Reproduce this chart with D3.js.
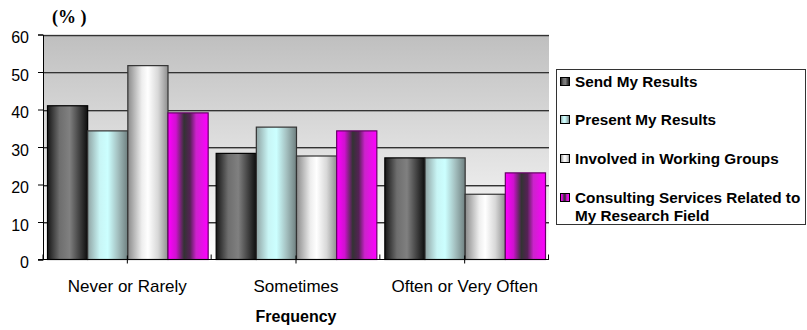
<!DOCTYPE html>
<html><head><meta charset="utf-8">
<script src="https://cdn.jsdelivr.net/npm/d3@7"></script>
<style>body{margin:0;background:#fff}svg{display:block}</style>
</head><body>
<script>
const categories = ["Never or Rarely", "Sometimes", "Often or Very Often"];
const seriesNames = ["Send My Results", "Present My Results", "Involved in Working Groups", "Consulting Services Related to My Research Field"];
const sendValues = [41.0, 28.3, 27.1];
const presentValues = [34.3, 35.3, 27.1];
const involvedValues = [51.7, 27.6, 17.4];
const consultingValues = [39.1, 34.3, 23.1];
const yTicks = [0, 10, 20, 30, 40, 50, 60];

const seriesValues = [sendValues, presentValues, involvedValues, consultingValues];
const W = 807, H = 330;
const m = {left: 43, right: 549, top: 34.5, bottom: 259.5};
const SANS = "Liberation Sans, Arial, sans-serif";

const svg = d3.select("body").append("svg").attr("width", W).attr("height", H);
const defs = svg.append("defs");

const bg = defs.append("linearGradient").attr("id", "bg").attr("x1", 0).attr("y1", 0).attr("x2", 0).attr("y2", 1);
bg.append("stop").attr("offset", "0%").attr("stop-color", "#bfbfbf");
bg.append("stop").attr("offset", "100%").attr("stop-color", "#ffffff");

const grads = [
  [[0, "#161616"], [0.3, "#6e6e6e"], [0.55, "#808080"], [0.85, "#333333"], [1, "#0d0d0d"]],
  [[0, "#8fa3a3"], [0.3, "#c8f5f5"], [0.5, "#ccffff"], [0.75, "#a4c0c0"], [1, "#6f8080"]],
  [[0, "#8a8a8a"], [0.35, "#eeeeee"], [0.5, "#ffffff"], [0.75, "#d8d8d8"], [1, "#8f8f8f"]],
  [[0, "#ff00ff"], [0.2, "#d010d0"], [0.4, "#333333"], [0.55, "#552255"], [0.7, "#cc22cc"], [1, "#ff00ff"]]
];
const strokes = ["#000", "#333", "#333", "#660066"];
grads.forEach((g, i) => {
  const lg = defs.append("linearGradient").attr("id", "g" + i).attr("x1", 0).attr("y1", 0).attr("x2", 1).attr("y2", 0);
  g.forEach(s => lg.append("stop").attr("offset", s[0]).attr("stop-color", s[1]));
});

const x0 = d3.scaleBand().domain(categories).range([m.left, m.right]).paddingInner(0).paddingOuter(0);
const x1 = d3.scaleBand().domain(d3.range(4)).range([4, x0.bandwidth() - 4]).padding(0);
const y = d3.scaleLinear().domain([0, 60]).range([m.bottom, m.top]);

svg.append("rect").attr("x", m.left).attr("y", m.top).attr("width", m.right - m.left).attr("height", m.bottom - m.top).attr("fill", "url(#bg)");

// gridlines
yTicks.filter(t => t > 0).forEach(t => {
  svg.append("line").attr("x1", m.left).attr("x2", m.right).attr("y1", Math.round(y(t)) + 1.5).attr("y2", Math.round(y(t)) + 1.5).attr("stroke", "#9a9a9a").attr("stroke-width", 1);
  svg.append("line").attr("x1", m.left).attr("x2", m.right).attr("y1", Math.round(y(t)) + 0.5).attr("y2", Math.round(y(t)) + 0.5).attr("stroke", "#333").attr("stroke-width", 1);
});

// bars
const groups = svg.append("g").selectAll("g").data(categories).join("g").attr("transform", c => `translate(${x0(c)},0)`);
groups.selectAll("rect").data((c, ci) => seriesValues.map((vals, si) => ({si, v: vals[ci]}))).join("rect")
  .attr("x", d => x1(d.si) + 0.5)
  .attr("y", d => y(d.v))
  .attr("width", x1.bandwidth())
  .attr("height", d => y(0) - y(d.v))
  .attr("fill", d => `url(#g${d.si})`)
  .attr("stroke", d => strokes[d.si]).attr("stroke-width", 1.2);

// y axis
const yAxis = d3.axisLeft(y).tickValues(yTicks).tickSize(5).tickPadding(9).tickFormat(d3.format("d"));
const ya = svg.append("g").attr("transform", `translate(${m.left},0)`).call(yAxis);
ya.select(".domain").attr("stroke", "#000");
ya.selectAll(".tick line").attr("stroke", "#000");
ya.selectAll("text").attr("font-family", SANS).attr("font-size", 16).attr("fill", "#000").attr("dy", "0.52em");

// x axis
svg.append("line").attr("x1", m.left - 5).attr("x2", m.right).attr("y1", m.bottom).attr("y2", m.bottom).attr("stroke", "#000");
const xAxis = d3.axisBottom(x0).tickSize(4).tickPadding(16);
const xa = svg.append("g").attr("transform", `translate(0,${m.bottom})`).call(xAxis);
xa.select(".domain").remove();
xa.selectAll(".tick line").attr("stroke", "#000").attr("y1", -4);
xa.selectAll("text").attr("font-family", SANS).attr("font-size", 17).attr("fill", "#000");
// boundary ticks
[0, 1, 2, 3].forEach(i => {
  const bx = m.left + i * x0.step() + (i === 0 ? 0 : -0.5);
  svg.append("line").attr("x1", bx).attr("x2", bx).attr("y1", m.bottom - 5).attr("y2", m.bottom).attr("stroke", "#000");
});

// axis titles
svg.append("text").attr("x", (m.left + m.right) / 2).attr("y", 322).attr("text-anchor", "middle")
  .attr("font-family", SANS).attr("font-weight", "bold").attr("font-size", 16).text("Frequency");
svg.append("text").attr("x", 52).attr("y", 23)
  .attr("font-family", "Liberation Serif, Times New Roman, serif").attr("font-weight", "bold").attr("font-size", 18).text("(% )");

// legend
const lg = svg.append("g");
lg.append("rect").attr("x", 556.5).attr("y", 69.5).attr("width", 249).attr("height", 155).attr("fill", "#fff").attr("stroke", "#333");
const legendY = [82, 120, 159, 198];
seriesNames.forEach((name, i) => {
  lg.append("rect").attr("x", 560.5).attr("y", legendY[i] - 4.5).attr("width", 9).attr("height", 8)
    .attr("fill", `url(#g${i})`).attr("stroke", "#000").attr("stroke-width", 1);
  const t = lg.append("text").attr("x", 575).attr("y", legendY[i] + 5)
    .attr("font-family", SANS).attr("font-weight", "bold").attr("font-size", 15.3);
  if (i === 3) {
    t.append("tspan").attr("x", 575).text("Consulting Services Related to");
    t.append("tspan").attr("x", 575).attr("dy", 18).text("My Research Field");
  } else t.text(name);
});
</script>
</body></html>
